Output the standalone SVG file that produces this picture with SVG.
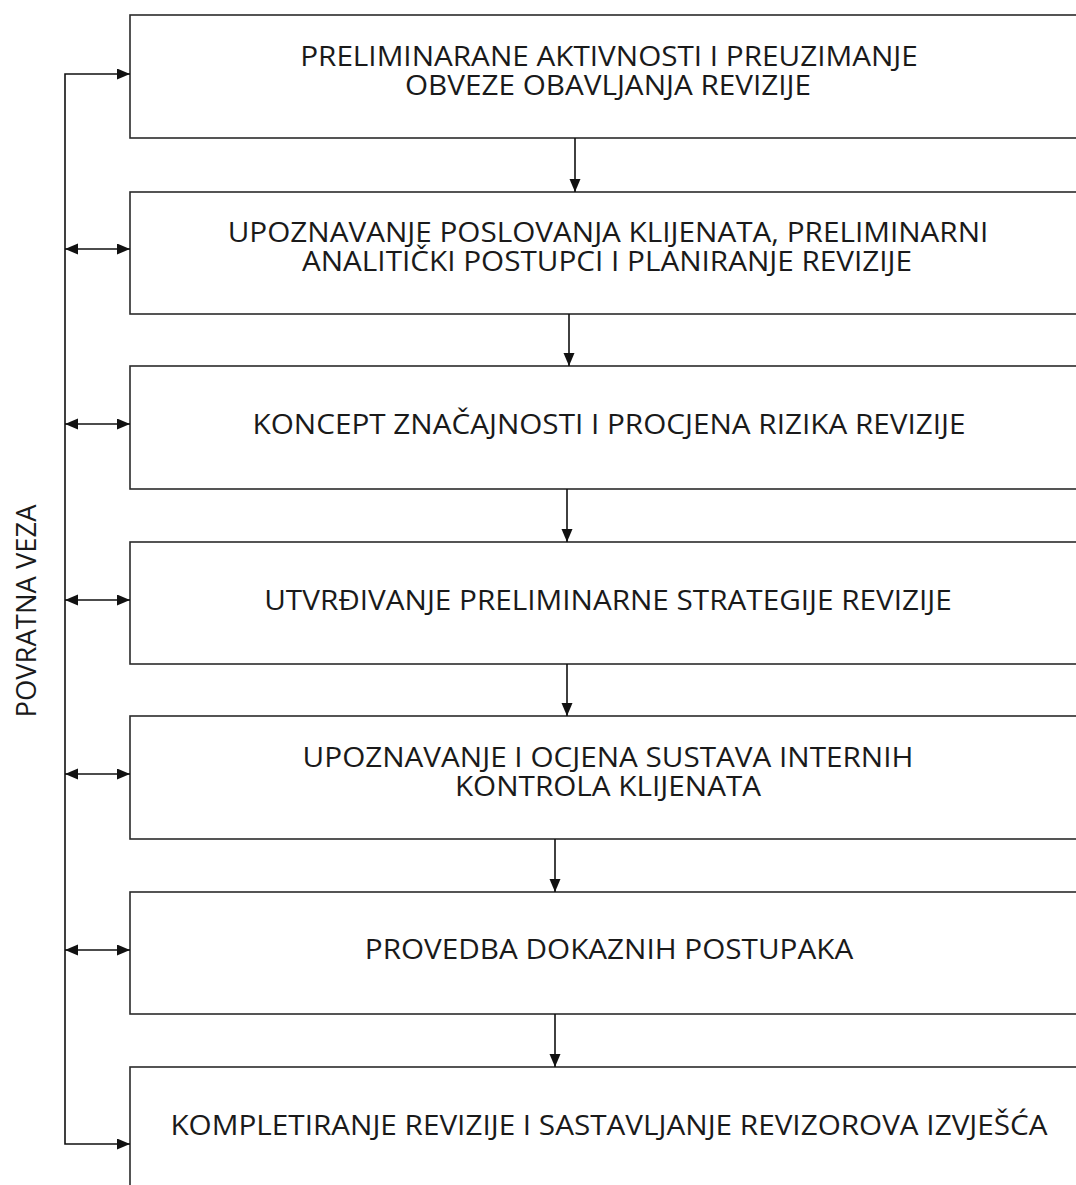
<svg xmlns="http://www.w3.org/2000/svg" width="1076" height="1185" viewBox="0 0 1076 1185">
<style>
.box{fill:#fff;stroke:#2b2b2b;stroke-width:1.6}
.t{font-family:"Open Sans","Liberation Sans",sans-serif;font-size:27px;fill:#1a1a1a;text-anchor:middle}
.c{fill:none;stroke:#111;stroke-width:1.6}
</style>
<defs>
<marker id="ah" markerUnits="userSpaceOnUse" markerWidth="14" markerHeight="12" refX="13" refY="5.5" orient="auto-start-reverse">
<path d="M0,0 L13,5.5 L0,11 z" fill="#111"/>
</marker>
</defs>
<rect width="1076" height="1185" fill="#fff"/>
<g id="n1"><rect class="box" x="130" y="15" width="980" height="123"/>
<text class="t" transform="translate(609,66) scale(1.1,1)">PRELIMINARANE AKTIVNOSTI I PREUZIMANJE</text>
<text class="t" transform="translate(608,95) scale(1.1,1)">OBVEZE OBAVLJANJA REVIZIJE</text></g>
<g id="n2"><rect class="box" x="130" y="192" width="980" height="122"/>
<text class="t" transform="translate(608,242) scale(1.1,1)">UPOZNAVANJE POSLOVANJA KLIJENATA, PRELIMINARNI</text>
<text class="t" transform="translate(607,271) scale(1.1,1)">ANALITIČKI POSTUPCI I PLANIRANJE REVIZIJE</text></g>
<g id="n3"><rect class="box" x="130" y="366" width="980" height="123"/>
<text class="t" transform="translate(609,434) scale(1.1,1)">KONCEPT ZNAČAJNOSTI I PROCJENA RIZIKA REVIZIJE</text></g>
<g id="n4"><rect class="box" x="130" y="542" width="980" height="122"/>
<text class="t" transform="translate(608,610) scale(1.1,1)">UTVRĐIVANJE PRELIMINARNE STRATEGIJE REVIZIJE</text></g>
<g id="n5"><rect class="box" x="130" y="716" width="980" height="123"/>
<text class="t" transform="translate(608,767) scale(1.1,1)">UPOZNAVANJE I OCJENA SUSTAVA INTERNIH</text>
<text class="t" transform="translate(608,796) scale(1.1,1)">KONTROLA KLIJENATA</text></g>
<g id="n6"><rect class="box" x="130" y="892" width="980" height="122"/>
<text class="t" transform="translate(609,959) scale(1.1,1)">PROVEDBA DOKAZNIH POSTUPAKA</text></g>
<g id="n7"><rect class="box" x="130" y="1067" width="980" height="140"/>
<text class="t" transform="translate(609,1135) scale(1.1,1)">KOMPLETIRANJE REVIZIJE I SASTAVLJANJE REVIZOROVA IZVJEŠĆA</text></g>
<g id="label"><text class="t" font-size="28" transform="translate(36,611) rotate(-90)" textLength="213" lengthAdjust="spacingAndGlyphs">POVRATNA VEZA</text></g>
<g id="connectors">
<path class="c" d="M130,74 H65 V1144 H130" marker-start="url(#ah)" marker-end="url(#ah)"/>
<line class="c" x1="65" y1="249" x2="130" y2="249" marker-start="url(#ah)" marker-end="url(#ah)"/>
<line class="c" x1="65" y1="424" x2="130" y2="424" marker-start="url(#ah)" marker-end="url(#ah)"/>
<line class="c" x1="65" y1="600" x2="130" y2="600" marker-start="url(#ah)" marker-end="url(#ah)"/>
<line class="c" x1="65" y1="774" x2="130" y2="774" marker-start="url(#ah)" marker-end="url(#ah)"/>
<line class="c" x1="65" y1="950" x2="130" y2="950" marker-start="url(#ah)" marker-end="url(#ah)"/>
<line class="c" x1="575" y1="138" x2="575" y2="192" marker-end="url(#ah)"/>
<line class="c" x1="569" y1="314" x2="569" y2="366" marker-end="url(#ah)"/>
<line class="c" x1="567" y1="489" x2="567" y2="542" marker-end="url(#ah)"/>
<line class="c" x1="567" y1="664" x2="567" y2="716" marker-end="url(#ah)"/>
<line class="c" x1="555" y1="839" x2="555" y2="892" marker-end="url(#ah)"/>
<line class="c" x1="555" y1="1014" x2="555" y2="1067" marker-end="url(#ah)"/>
</g>
</svg>
